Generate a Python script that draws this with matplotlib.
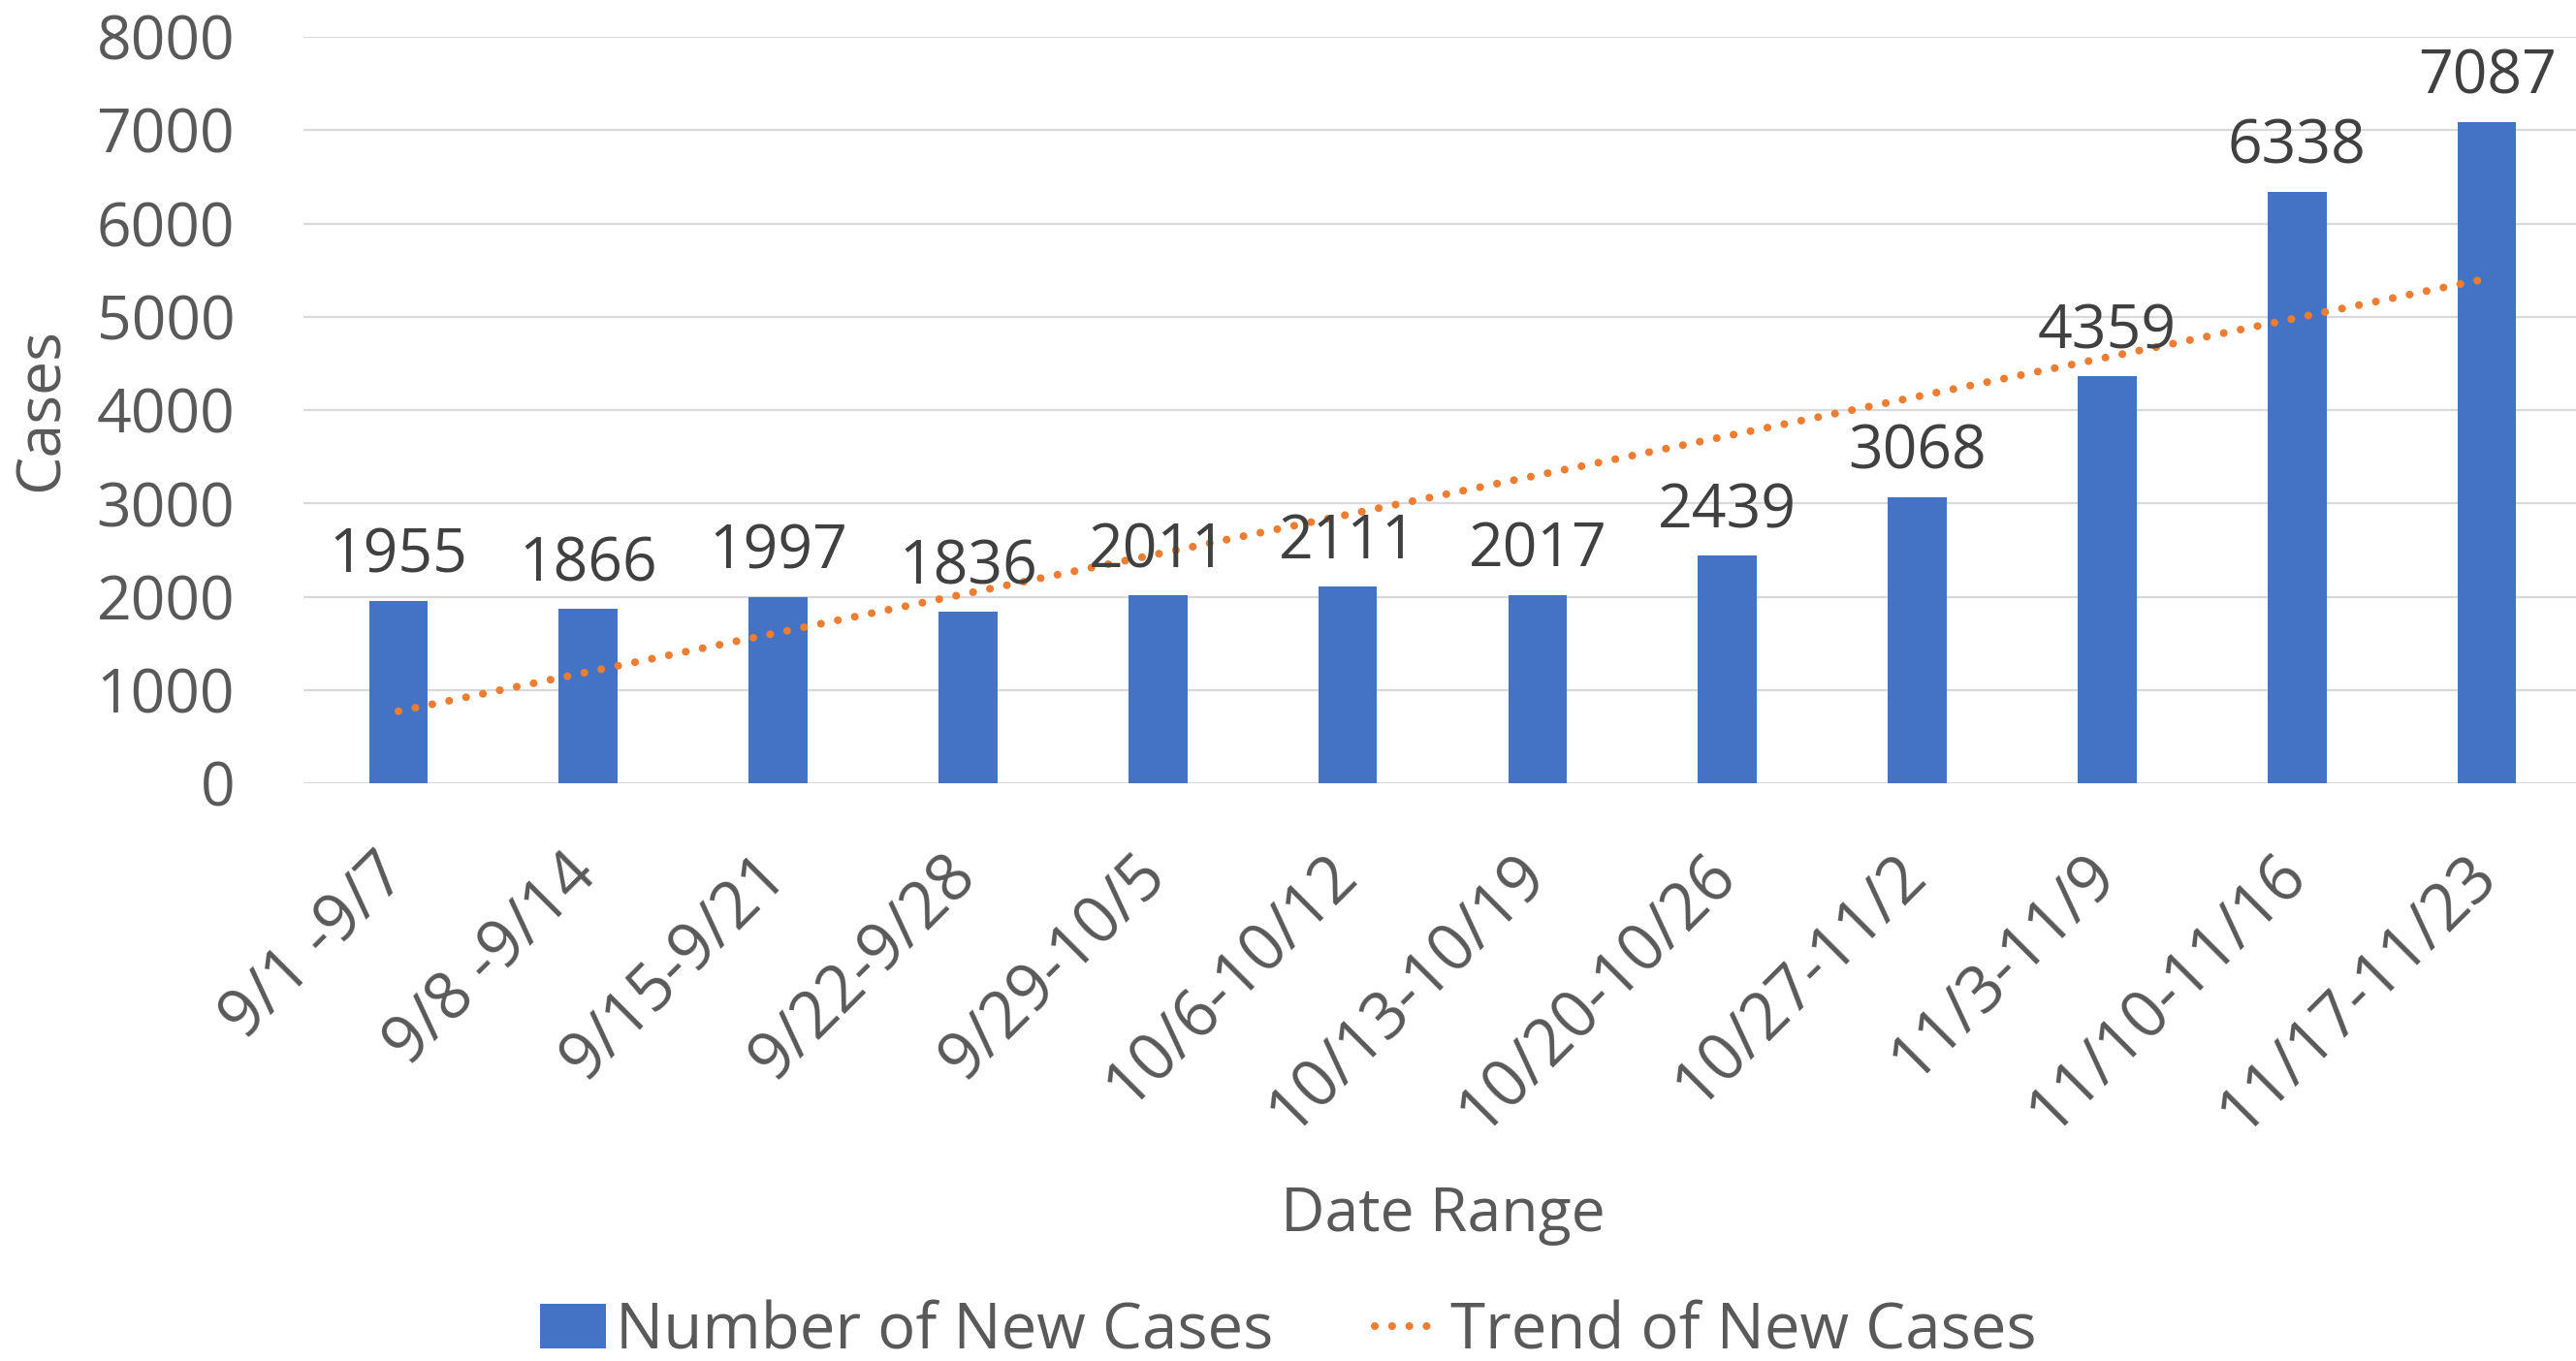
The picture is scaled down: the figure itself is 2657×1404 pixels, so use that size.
import matplotlib
matplotlib.use("Agg")
import matplotlib.pyplot as plt
import matplotlib.transforms as mtransforms
import numpy as np

categories = ["9/1 -9/7", "9/8 -9/14", "9/15-9/21", "9/22-9/28", "9/29-10/5",
              "10/6-10/12", "10/13-10/19", "10/20-10/26", "10/27-11/2",
              "11/3-11/9", "11/10-11/16", "11/17-11/23"]
new_cases = [1955, 1866, 1997, 1836, 2011, 2111, 2017, 2439, 3068, 4359, 6338, 7087]
y_ticks = [0, 1000, 2000, 3000, 4000, 5000, 6000, 7000, 8000]

plt.rcParams['font.family'] = ['Open Sans', 'DejaVu Sans']

BLUE = "#4472C4"
ORANGE = "#ED7D31"
GRID = "#D9D9D9"
TXT = "#595959"
LBL = "#404040"
FS = 45

W, H = 2657, 1404
fig = plt.figure(figsize=(W / 100, H / 100), dpi=100)
left, right, top, bottom = 313, 2663, 38, 808
ax = fig.add_axes([left / W, 1 - bottom / H, (right - left) / W, (bottom - top) / H])

x = np.arange(len(categories))
ax.bar(x, new_cases, width=0.31, color=BLUE, zorder=3,
       label="Number of New Cases")

# linear trendline (least squares fit, as in the original chart's trendline)
coef = np.polyfit(x, new_cases, 1)
trend = np.polyval(coef, x)
ax.plot(x, trend, color=ORANGE, linewidth=5.8, linestyle=(0, (0.01, 2.2)),
        dash_capstyle='round', solid_capstyle='round', zorder=4,
        label="Trend of New Cases")

for xi, v in zip(x, new_cases):
    ax.annotate(f"{v}", (xi, v), xytext=(0, 21), textcoords='offset points',
                ha='center', va='baseline', fontsize=FS, color=LBL, zorder=5)

ax.set_xlim(-0.5, len(categories) - 0.5)
ax.set_ylim(0, 8000)
ax.set_yticks(y_ticks)
ax.set_xticks(x)
ax.set_xticklabels(categories, rotation=45, ha='right', va='top',
                   rotation_mode='anchor', fontsize=48)
ax.tick_params(axis='both', length=0, labelcolor=TXT)
ax.tick_params(axis='y', pad=51, labelsize=FS)
ax.tick_params(axis='x', pad=44)
shift = mtransforms.ScaledTranslation(-0.25, 0, fig.dpi_scale_trans)
for lab in ax.get_xticklabels():
    lab.set_transform(lab.get_transform() + shift)

ax.grid(axis='y', color=GRID, linewidth=1.6, zorder=0)
ax.set_axisbelow(True)
for s in ax.spines.values():
    s.set_visible(False)

ax.set_ylabel("Cases", fontsize=FS, color=TXT)
ax.yaxis.set_label_coords((43 - left) / (right - left), 0.5)
ax.yaxis.label.set_va('center')
ax.set_xlabel("Date Range", fontsize=FS, color=TXT)
ax.xaxis.set_label_coords(0.5, (bottom - 1254) / (bottom - top))
ax.xaxis.label.set_va('center')

h, l = ax.get_legend_handles_labels()
order = [l.index("Number of New Cases"), l.index("Trend of New Cases")]
fig.legend([h[i] for i in order], [l[i] for i in order], loc='center',
           bbox_to_anchor=(0.5, 1 - 1374 / H),
           ncol=2, frameon=False, fontsize=47, handlelength=1.05,
           handleheight=0.7, handletextpad=0.15, columnspacing=1.6,
           labelcolor=TXT)

fig.savefig("out.png", dpi=100, facecolor='white')
